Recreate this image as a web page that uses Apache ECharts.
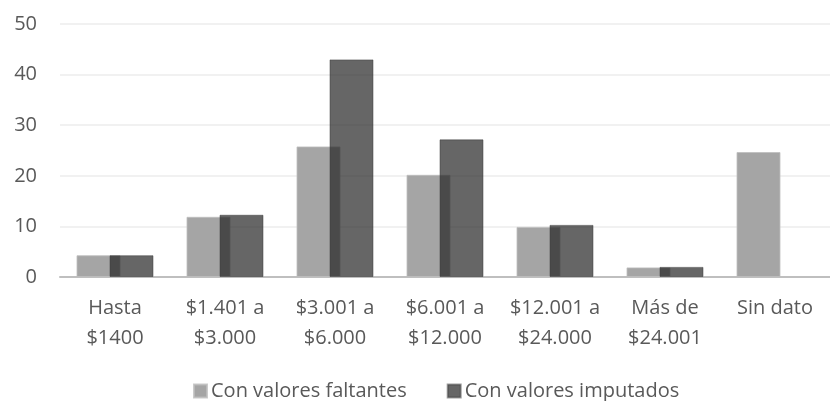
<!DOCTYPE html>
<html><head><meta charset="utf-8">
<script src="https://cdn.jsdelivr.net/npm/echarts@6/dist/echarts.min.js"></script>
<style>html,body{margin:0;padding:0;background:#fff;overflow:hidden}#c{width:830px;height:401px}</style>
</head><body><div id="c"></div>
<script>
const categories = ["Hasta\n$1400", "$1.401 a\n$3.000", "$3.001 a\n$6.000", "$6.001 a\n$12.000", "$12.001 a\n$24.000", "Más de\n$24.001", "Sin dato"];
const faltantes = [4.3, 11.9, 25.8, 20.2, 9.9, 1.9, 24.7];
const imputados = [4.3, 12.3, 43.0, 27.2, 10.3, 2.0, null];
const yTicks = { min: 0, max: 50, interval: 10 };

const FONT = "'Open Sans', 'Noto Sans', sans-serif";
const chart = echarts.init(document.getElementById('c'), null, { renderer: 'canvas' });
chart.setOption({
  animation: false,
  grid: { left: 60, width: 782, top: 24, height: 253, containLabel: false },
  legend: {
    top: 376, left: 188, itemWidth: 13, itemHeight: 13, itemGap: 40,
    icon: 'rect',
    textStyle: { fontFamily: FONT, fontSize: 20, color: '#595959', padding: [0, 0, 0, -1] },
    data: ['Con valores faltantes', 'Con valores imputados']
  },
  xAxis: {
    type: 'category', data: categories,
    axisLine: { lineStyle: { color: '#bfbfbf', width: 2 } },
    axisTick: { show: false },
    axisLabel: { fontFamily: FONT, fontSize: 20, color: '#595959', lineHeight: 30, margin: 16, interval: 0 }
  },
  yAxis: {
    type: 'value', min: yTicks.min, max: yTicks.max, interval: yTicks.interval,
    axisLine: { show: false }, axisTick: { show: false },
    splitLine: { lineStyle: { color: '#ececec', width: 1.5 } },
    axisLabel: { fontFamily: FONT, fontSize: 20, color: '#595959', margin: 23 }
  },
  series: [{
    name: 'Con valores faltantes', type: 'bar', data: faltantes,
    barWidth: 44, barGap: '-25%',
    itemStyle: { color: '#a5a5a5', borderColor: 'rgba(190,190,190,0.8)', borderWidth: 1 }
  }, {
    name: 'Con valores imputados', type: 'bar', data: imputados,
    barWidth: 44, barGap: '-25%',
    itemStyle: { color: 'rgba(33,33,33,0.69)', borderColor: 'rgba(60,60,60,0.5)', borderWidth: 1 }
  }]
});
</script>
</body></html>
